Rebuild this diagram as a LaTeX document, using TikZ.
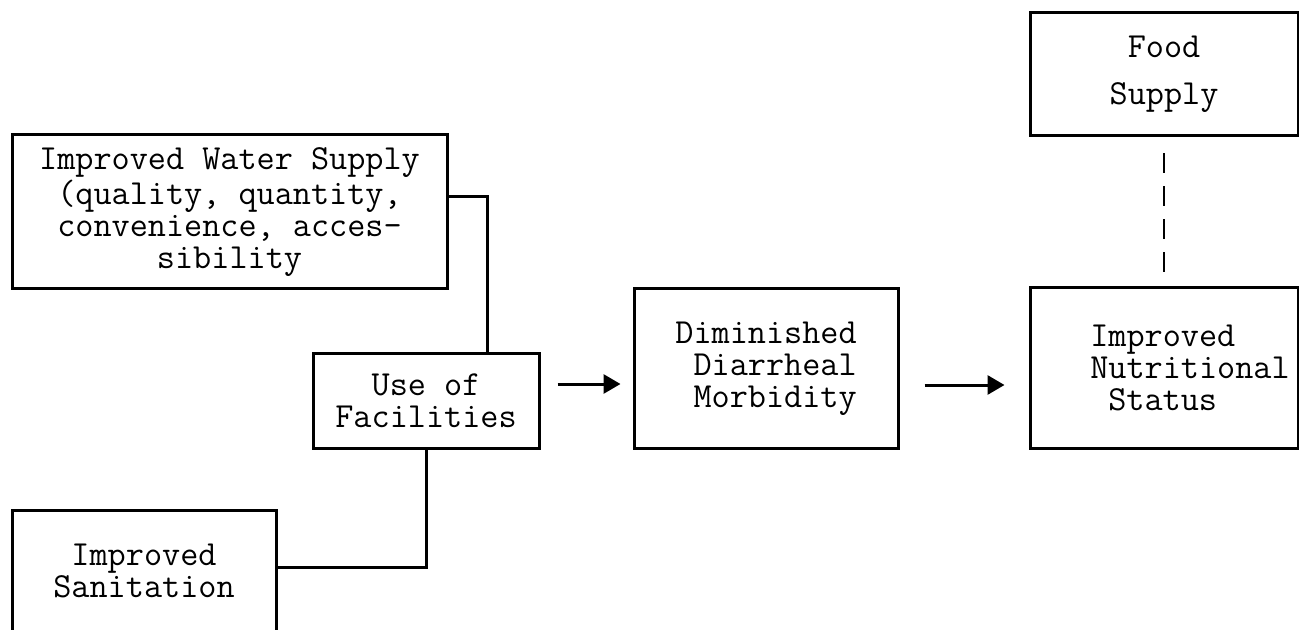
\documentclass[tikz,border=0pt]{standalone}
\usepackage{tikz}
\usetikzlibrary{arrows.meta, calc, positioning}

\begin{document}
\begin{tikzpicture}[x=0.5pt, y=-0.5pt]
        \useasboundingbox (0, 0) rectangle (1299, 630);

        \tikzstyle{bx} = [draw, line width=1.5pt, inner sep=0pt, font=\ttfamily\fontsize{17.6}{16}\selectfont];
        \tikzstyle{ln} = [line width=1.5pt];
        \tikzstyle{ar} = [line width=1.5pt, -{Triangle[length=8.5pt, width=9.5pt]}];
        \tikzstyle{dl} = [line width=1pt, dash pattern=on 10pt off 6.5pt];

        \node [bx, minimum width=217.5pt, minimum height=77pt, align=center] (WS) at (229.5, 212)
            {Improved Water Supply\\(quality, quantity,\\convenience, acces-\\sibility};
        \node [bx, minimum width=113pt, minimum height=47.5pt, align=center] (UF) at (426, 400.5)
            {Use of\\Facilities};
        \node [bx, minimum width=132pt, minimum height=61pt, align=center] (IS) at (144, 571)
            {Improved\\Sanitation};
        \node [bx, minimum width=132pt, minimum height=79.5pt, align=right] (DM) at (766, 368.5)
            {Diminished\\Diarrheal\\Morbidity};
        \node [bx, minimum width=134pt, minimum height=80pt, align=left] (NS) at (1164, 368)
            {\hspace*{26pt}Improved\\\hspace*{26pt}Nutritional\\\hspace*{35pt}Status};
        \node [bx, minimum width=134pt, minimum height=61.5pt, align=center,
            font=\ttfamily\fontsize{17.6}{23.5}\selectfont] (FS) at (1164, 74.5)
            {Food\\Supply};

        % elbow lines into the use box
        \draw [ln] ([yshift=7.5pt]WS.east) -| ([xshift=30.5pt]UF.north);
        \draw [ln] (UF.south) |- ([yshift=2pt]IS.east);

        % arrows
        \coordinate (A1) at ([xshift=8.5pt, yshift=8.25pt]UF.east);
        \draw [ar] (A1) -- ([xshift=-6pt]DM.west |- A1);
        \coordinate (A2) at ([xshift=12.5pt, yshift=-8.25pt]DM.east);
        \draw [ar] (A2) -- ([xshift=-12pt]NS.west |- A2);

        \draw [dl] ([yshift=-8pt]FS.south) -- ([yshift=6pt]NS.north);
    \end{tikzpicture}
\end{document}
